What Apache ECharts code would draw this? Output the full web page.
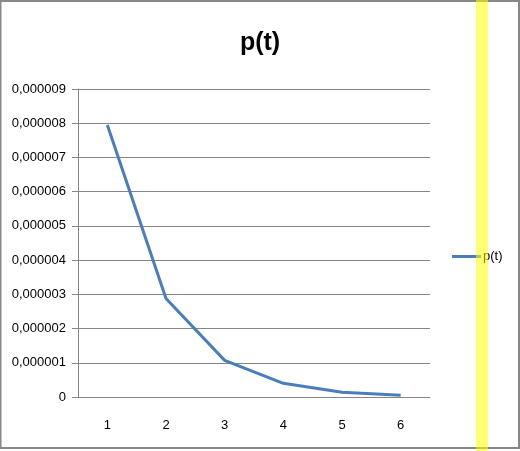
<!DOCTYPE html>
<html><head><meta charset="utf-8">
<script src="https://cdn.jsdelivr.net/npm/echarts@6/dist/echarts.min.js"></script>
<style>html,body{margin:0;padding:0;background:#fff}#c{width:520px;height:451px}</style>
</head><body><div id="c"></div>
<script>
var categories = ['1','2','3','4','5','6'];
var pValues = [0.00000795, 0.00000288, 0.00000107, 0.00000040, 0.00000014, 0.00000005];
var seriesName = 'p(t)';
var FONT = '"Liberation Sans", Arial, sans-serif';
var chart = echarts.init(document.getElementById('c'));
chart.setOption({
  animation: false,
  backgroundColor: '#fff',
  title: {text: 'p(t)', left: 'center', top: 26,
    textStyle: {fontFamily: FONT, fontWeight: 'bold', fontSize: 25, color: '#000'}},
  legend: {orient: 'vertical', left: 452, top: 250, padding: 0, itemWidth: 29, itemHeight: 3, itemGap: 0,
    icon: 'rect',
    textStyle: {fontFamily: FONT, fontSize: 13, color: '#000', padding: [0,0,0,-3]},
    data: [seriesName]},
  grid: {left: 78, right: 90, top: 89, bottom: 54},
  xAxis: {type: 'category', data: categories, boundaryGap: true,
    axisLine: {lineStyle: {color: '#868686', width: 1}},
    axisTick: {length: 5, lineStyle: {color: '#868686'}},
    axisLabel: {fontFamily: FONT, fontSize: 13, color: '#000', margin: 22}},
  yAxis: {type: 'value', min: 0, max: 0.000009, interval: 0.000001,
    axisLine: {show: true, lineStyle: {color: '#868686', width: 1}},
    axisTick: {show: true, length: 6, lineStyle: {color: '#868686'}},
    splitLine: {lineStyle: {color: '#868686', width: 1}},
    axisLabel: {fontFamily: FONT, fontSize: 13, color: '#000', margin: 12,
      formatter: function (v) { if (v === 0) return '0'; return v.toFixed(6).replace('.', ','); }}},
  series: [{name: seriesName, type: 'line', data: pValues, symbol: 'none',
    lineStyle: {color: '#4a7ebb', width: 3}, itemStyle: {color: '#4a7ebb'}}],
  graphic: [
    {type: 'rect', shape: {x: 476, y: 0, width: 12, height: 451}, style: {fill: 'rgba(255,255,0,0.55)'}, z: 100},
    {type: 'rect', shape: {x: 0.5, y: 1, width: 518.5, height: 447}, style: {fill: null, stroke: '#888', lineWidth: 2}, z: 99}
  ]
});
</script></body></html>
